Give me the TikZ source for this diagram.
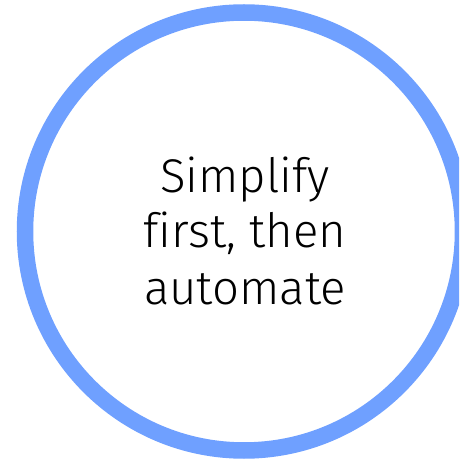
\documentclass[tikz,border=0pt]{standalone}
\usepackage{fontspec}
\setmainfont[Ligatures=NoCommon]{Fira Sans Light}
\definecolor{ringblue}{HTML}{6FA0FF}
\begin{document}
\begin{tikzpicture}[x=1pt,y=1pt,
  lbl/.style={anchor=base,inner sep=0pt,font=\fontsize{47.3}{56}\selectfont,text=black}]
\useasboundingbox (0,0) rectangle (459,461);
\clip (0,0) rectangle (459,461);
\node[circle,draw=ringblue,line width=16.5pt,minimum size=438pt,inner sep=0pt] (ring) at (244,229.5) {};
\node[lbl] (l1) at (245,268) {Simplify};
\node[lbl] (l2) at (245,213) {first, then};
\node[lbl] (l3) at (245,156) {automate};
\end{tikzpicture}
\end{document}
